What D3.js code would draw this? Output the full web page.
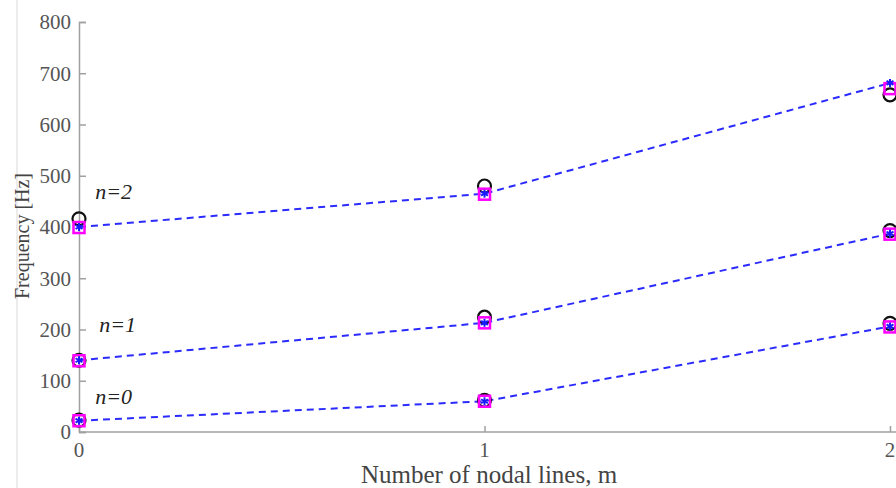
<!DOCTYPE html>
<html>
<head>
<meta charset="utf-8">
<script src="https://cdn.jsdelivr.net/npm/d3@7"></script>
<style>
  body { margin: 0; background: #fff; }
  svg { display: block; }
</style>
</head>
<body>
<svg id="chart" width="896" height="488"></svg>
<script>
// Data
const modes = [0, 1, 2];                 // number of nodal lines, m
const groups = ["n=0", "n=1", "n=2"];
const measured = [                       // black open circles
  [23, 62, 212],
  [140, 224, 393],
  [416, 480, 658]
];
const modelA = [                         // magenta squares
  [22, 60, 205],
  [139, 213, 386],
  [399, 464, 670]
];
const modelB = [                         // blue dashed line with asterisks
  [22, 60, 206],
  [140, 213, 387],
  [400, 465, 681]
];
const yTicks = [0, 100, 200, 300, 400, 500, 600, 700, 800];
const xTicks = [0, 1, 2];
const labelAt = [[0.04, 55], [0.05, 195], [0.04, 455]]; // group label anchor (m, Hz)

const svg = d3.select("#chart");
const serif = "'Liberation Serif', 'Times New Roman', serif";

const x = d3.scaleLinear().domain([0, 2]).range([79, 890]);
const y = d3.scaleLinear().domain([0, 800]).range([432, 22]);

// faint page edge
svg.append("line")
  .attr("x1", 17).attr("x2", 17).attr("y1", 0).attr("y2", 488)
  .attr("stroke", "#e6e6e6").attr("stroke-width", 1.5);

// axes
const yAxis = svg.append("g")
  .attr("transform", `translate(${x(0)},0)`)
  .call(d3.axisRight(y).tickValues(yTicks).tickSize(7).tickFormat(""));
yAxis.select(".domain").attr("stroke", "#a0a0a0").attr("stroke-width", 1.5);
yAxis.selectAll(".tick line").attr("stroke", "#a0a0a0").attr("stroke-width", 1.5);

const xAxis = svg.append("g")
  .attr("transform", `translate(0,${y(0)})`)
  .call(d3.axisTop(x).tickValues(xTicks).tickSize(6).tickFormat(""));
xAxis.select(".domain").attr("stroke", "#a0a0a0").attr("stroke-width", 1.5)
  .attr("d", `M${x(0)},0H896`);
xAxis.selectAll(".tick line").attr("stroke", "#a0a0a0").attr("stroke-width", 1.5);

// tick labels
svg.append("g").selectAll("text").data(yTicks).join("text")
  .attr("x", 71).attr("y", d => y(d)).attr("dy", "0.35em")
  .attr("text-anchor", "end")
  .attr("font-family", serif).attr("font-size", 21).attr("fill", "#555")
  .text(d => d);

svg.append("g").selectAll("text").data(xTicks).join("text")
  .attr("x", d => x(d)).attr("y", 457)
  .attr("text-anchor", "middle")
  .attr("font-family", serif).attr("font-size", 21).attr("fill", "#555")
  .text(d => d);

// axis titles
svg.append("text")
  .attr("transform", "translate(29,236) rotate(-90)")
  .attr("text-anchor", "middle")
  .attr("font-family", serif).attr("font-size", 20).attr("fill", "#444")
  .text("Frequency [Hz]");

svg.append("text")
  .attr("x", 489).attr("y", 483)
  .attr("text-anchor", "middle")
  .attr("font-family", serif).attr("font-size", 25).attr("fill", "#444")
  .text("Number of nodal lines, m");

// series
const line = d3.line().x((d, i) => x(modes[i])).y(d => y(d));

groups.forEach((g, k) => {
  svg.append("path")
    .datum(modelB[k])
    .attr("d", line)
    .attr("fill", "none")
    .attr("stroke", "#2b2bff")
    .attr("stroke-width", 2)
    .attr("stroke-dasharray", "7,5");

  // measured circles
  svg.append("g").selectAll("circle").data(measured[k]).join("circle")
    .attr("cx", (d, i) => x(modes[i])).attr("cy", d => y(d))
    .attr("r", 6.5)
    .attr("fill", "none").attr("stroke", "#111").attr("stroke-width", 2.2);

  // magenta squares
  svg.append("g").selectAll("rect").data(modelA[k]).join("rect")
    .attr("x", (d, i) => x(modes[i]) - 5.5).attr("y", d => y(d) - 5.5)
    .attr("width", 11).attr("height", 11)
    .attr("fill", "none").attr("stroke", "#ff00ff").attr("stroke-width", 2.5);

  // blue asterisks
  const star = svg.append("g").selectAll("g").data(modelB[k]).join("g")
    .attr("transform", (d, i) => `translate(${x(modes[i])},${y(d)})`);
  [0, 60, 120].forEach(a => {
    star.append("line")
      .attr("x1", 0).attr("y1", -4).attr("x2", 0).attr("y2", 4)
      .attr("transform", `rotate(${a})`)
      .attr("stroke", "#1a1aff").attr("stroke-width", 2);
  });

  // group label
  svg.append("text")
    .attr("x", x(labelAt[k][0])).attr("y", y(labelAt[k][1]))
    .attr("font-family", serif).attr("font-size", 22)
    .attr("font-style", "italic").attr("fill", "#222")
    .text(g);
});
</script>
</body>
</html>
